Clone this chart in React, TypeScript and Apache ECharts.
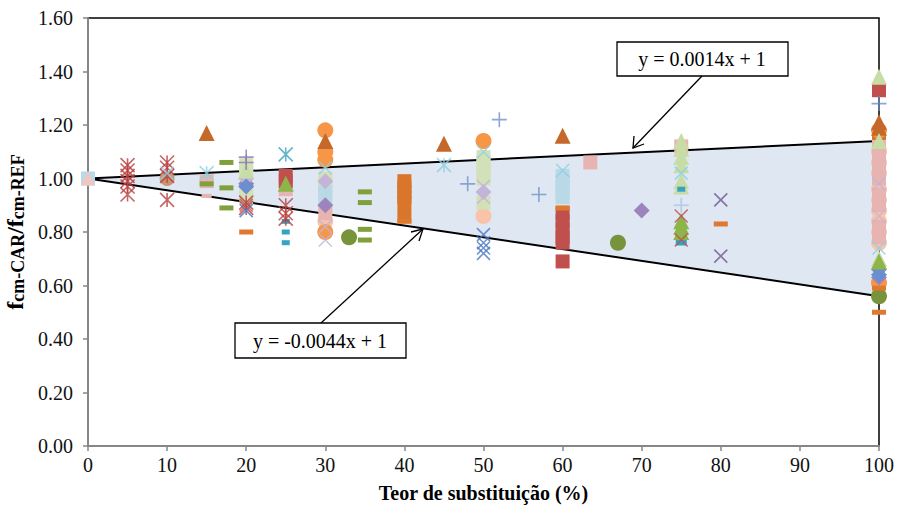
import React, { useEffect, useRef } from "react";
import * as echarts from "echarts";

// ---- axis ticks ----
const xTicks = [0, 10, 20, 30, 40, 50, 60, 70, 80, 90, 100];
const yTicks = [0, 0.2, 0.4, 0.6, 0.8, 1.0, 1.2, 1.4, 1.6];

// ---- envelope lines ----
const upperLine = [[0, 1], [100, 1.14]];
const lowerLine = [[0, 1], [100, 0.56]];
const upperLabel = "y = 0.0014x + 1";
const lowerLabel = "y = -0.0044x + 1";

// ---- data series (x = replacement %, y = fcm-CAR / fcm-REF) ----
const redStars = [[5, 1.05], [5, 1.03], [5, 1.01], [5, 0.99], [5, 0.97], [5, 0.94], [10, 1.06], [10, 1.04], [10, 1.01], [10, 0.92], [20, 0.91], [20, 0.89], [25, 0.9], [25, 0.87], [25, 0.85]];
const aquaStars = [[25, 1.09]];
const lightAquaStars = [[15, 1.02], [45, 1.05]];
const bluePlus = [[48, 0.98], [52, 1.22], [57, 0.94], [100, 1.28]];
const purplePlus = [[20, 1.08], [20, 1.06]];
const lightBluePlus = [[75, 0.9]];
const purpleX = [[80, 0.92], [80, 0.71]];
const blueX = [[20, 0.88], [50, 0.79], [50, 0.76], [50, 0.74], [50, 0.72]];
const lightAquaX = [[10, 1.02], [30, 1.04], [50, 1.1], [60, 1.03], [75, 1.02], [100, 0.74]];
const redX = [[75, 0.86], [75, 0.77], [20, 0.9]];
const lightPurpleX = [[30, 0.77], [30, 0.82], [50, 0.97], [50, 0.93], [100, 0.98], [100, 0.86]];
const brownTriangles = [[15, 1.17], [30, 1.14], [45, 1.13], [60, 1.16], [100, 1.21], [100, 1.19]];
const lightGreenTriangles = [[75, 1.14], [75, 1.11], [75, 1.08], [75, 1.05], [75, 0.99], [75, 0.97], [100, 1.38], [100, 1.14], [100, 0.7], [20, 1.03]];
const greenTriangles = [[25, 0.98], [75, 0.84], [75, 0.82], [75, 0.8], [100, 0.69]];
const pinkTriangles = [[0, 1.0]];
const orangeCircles = [[30, 1.18], [30, 1.1], [30, 1.07], [30, 0.8], [50, 1.14], [100, 1.18], [100, 0.61]];
const peachCircles = [[50, 0.86], [30, 0.84], [100, 1.1], [100, 1.06], [100, 1.02], [100, 0.96], [100, 0.92], [100, 0.88], [100, 0.84], [100, 0.8], [100, 0.76]];
const greenCircles = [[33, 0.78], [67, 0.76], [100, 0.56]];
const tanCircles = [[10, 1.0]];
const redSquares = [[25, 1.01], [25, 0.99], [60, 0.87], [60, 0.84], [60, 0.81], [60, 0.78], [60, 0.76], [60, 0.69], [100, 1.33]];
const pinkSquares = [[15, 0.99], [25, 0.96], [63.5, 1.06], [75, 1.12], [30, 0.87], [100, 1.12], [100, 1.08], [100, 1.04], [100, 1.0], [100, 0.94], [100, 0.9], [100, 0.82], [100, 0.78]];
const lightBlueSquares = [[0, 1.0], [30, 0.97], [30, 0.95], [30, 0.93], [60, 1.01], [60, 0.99], [60, 0.97], [60, 0.95], [60, 0.93], [100, 0.95]];
const lightGreenSquares = [[20, 1.05], [20, 1.03], [20, 0.95], [20, 0.93], [50, 1.08], [50, 1.06], [50, 1.04], [50, 1.02], [50, 1.0], [50, 0.91], [30, 1.0]];
const orangeSquares = [[40, 0.99], [40, 0.97], [40, 0.95], [40, 0.93], [40, 0.91], [40, 0.86], [100, 1.17]];
const aquaSquares = [[75, 0.77]];
const purpleDiamonds = [[70, 0.88], [30, 0.9], [20, 0.98], [100, 0.63]];
const lightPurpleDiamonds = [[20, 1.0], [50, 0.95], [30, 0.99]];
const blueDiamonds = [[100, 0.66], [100, 0.64], [20, 0.97]];
const greenDashes = [[15, 0.98], [17.5, 1.06], [17.5, 0.965], [17.5, 0.89], [35, 0.95], [35, 0.91], [35, 0.81], [35, 0.77]];
const orangeDashes = [[20, 0.8], [40, 0.84], [60, 0.89], [80, 0.83], [100, 0.5], [100, 0.59]];
const aquaDashes = [[25, 0.84], [25, 0.8], [25, 0.76], [75, 0.96]];
const pinkDashes = [[15, 0.935]];

const STAR = "path://M0,0L10,10M10,0L0,10M5,0L5,10";
const XMARK = "path://M0,0L10,10M10,0L0,10";
const PLUS = "path://M5,0L5,10M0,5L10,5";

const FONT = "'Liberation Serif', 'Times New Roman', serif";

function filled(name: string, data: number[][], symbol: string, color: string, size: any) {
  return {
    name, type: "scatter", data, symbol, symbolSize: size, clip: false, z: 3,
    itemStyle: { color, opacity: 1 },
  };
}
function stroked(name: string, data: number[][], symbol: string, color: string, size: number) {
  return {
    name, type: "scatter", data, symbol, symbolSize: size, clip: false, z: 3,
    itemStyle: { color: "rgba(0,0,0,0)", borderColor: color, borderWidth: 1.6 },
  };
}

export default function App() {
  const ref = useRef<HTMLDivElement>(null);
  useEffect(() => {
    if (!ref.current) return;
    const chart = echarts.init(ref.current, null, { renderer: "svg" });
    const series: any[] = [
      {
        name: "envelope", type: "custom", z: 1, silent: true,
        data: [0],
        renderItem: (params: any, api: any) => {
          const pts = [upperLine[0], upperLine[1], lowerLine[1]].map((p) => api.coord(p));
          return { type: "polygon", shape: { points: pts }, style: { fill: "#dfe7f2" } };
        },
      },
      { name: "upper", type: "line", data: upperLine, symbol: "none", z: 2, lineStyle: { color: "#000", width: 2 } },
      { name: "lower", type: "line", data: lowerLine, symbol: "none", z: 2, lineStyle: { color: "#000", width: 2 } },
      filled("lightBlueSquares", lightBlueSquares, "rect", "#B9D9E6", 14),
      filled("pinkTriangles", pinkTriangles, "triangle", "#F2C6C0", 14),
      filled("peachCircles", peachCircles, "circle", "#F9C3A9", 16),
      filled("pinkSquares", pinkSquares, "rect", "#E8B4B2", 14),
      filled("lightGreenSquares", lightGreenSquares, "rect", "#D3E1B8", 14),
      filled("orangeSquares", orangeSquares, "rect", "#D9762C", 14),
      filled("redSquares", redSquares, "rect", "#C0504D", 14),
      filled("aquaSquares", aquaSquares, "rect", "#31A3C4", 11),
      filled("tanCircles", tanCircles, "circle", "#C9956F", 15),
      filled("orangeCircles", orangeCircles, "circle", "#F79646", 16),
      filled("greenCircles", greenCircles, "circle", "#77933C", 16),
      filled("purpleDiamonds", purpleDiamonds, "diamond", "#9C85BD", 16),
      filled("lightPurpleDiamonds", lightPurpleDiamonds, "diamond", "#C4B5D8", 16),
      filled("blueDiamonds", blueDiamonds, "diamond", "#6A8ED0", 16),
      filled("brownTriangles", brownTriangles, "triangle", "#C4692A", 16),
      filled("lightGreenTriangles", lightGreenTriangles, "triangle", "#C8DCA5", 16),
      filled("greenTriangles", greenTriangles, "triangle", "#8DB54A", 16),
      filled("greenDashes", greenDashes, "rect", "#7FA03A", [14, 5]),
      filled("orangeDashes", orangeDashes, "rect", "#E0782D", [14, 5]),
      filled("aquaDashes", aquaDashes, "rect", "#35A4C4", [8, 5]),
      filled("pinkDashes", pinkDashes, "rect", "#E6B4B3", [10, 4]),
      stroked("redStars", redStars, STAR, "#B8403E", 14),
      stroked("aquaStars", aquaStars, STAR, "#3AA3C0", 14),
      stroked("lightAquaStars", lightAquaStars, STAR, "#8FCFE0", 14),
      stroked("bluePlus", bluePlus, PLUS, "#6F92C8", 15),
      stroked("purplePlus", purplePlus, PLUS, "#8C79B4", 15),
      stroked("lightBluePlus", lightBluePlus, PLUS, "#A9C3E4", 15),
      stroked("purpleX", purpleX, XMARK, "#6B5690", 13),
      stroked("blueX", blueX, XMARK, "#4A78C0", 13),
      stroked("lightAquaX", lightAquaX, XMARK, "#8ECFE2", 13),
      stroked("redX", redX, XMARK, "#C0504D", 13),
      stroked("lightPurpleX", lightPurpleX, XMARK, "#C0B4D6", 13),
    ];

    const boxStyle = { fill: "#fff", stroke: "#000", lineWidth: 1.3 };
    const arrowStyle = { stroke: "#000", lineWidth: 1.3, fill: "none" };
    const textStyle = (t: string, x: number, y: number) => ({
      type: "text", x, y, z: 10,
      style: { text: t, fontFamily: FONT, fontSize: 20, fill: "#000", align: "center", verticalAlign: "middle" },
    });

    chart.setOption({
      animation: false,
      backgroundColor: "#fff",
      grid: {
        left: 88, right: 19, top: 18, bottom: 59, outerBoundsMode: "none", containLabel: false,
        show: true, borderColor: "#000", borderWidth: 1.5, backgroundColor: "transparent",
      },
      xAxis: {
        type: "value", min: xTicks[0], max: xTicks[xTicks.length - 1], interval: 10,
        name: "Teor de substituição (%)", nameLocation: "middle", nameGap: 37,
        nameTextStyle: { fontFamily: FONT, fontSize: 20, fontWeight: "bold", color: "#000" },
        axisLine: { lineStyle: { color: "#868686", width: 2 } },
        axisTick: { length: 5, lineStyle: { color: "#868686", width: 1.5 } },
        axisLabel: { fontFamily: FONT, fontSize: 20, color: "#111", margin: 9 },
        splitLine: { show: false },
      },
      yAxis: {
        type: "value", min: yTicks[0], max: yTicks[yTicks.length - 1], interval: 0.2,
        name: "{f|f}{s|cm-CAR}{f|/f}{s|cm-REF}", nameLocation: "middle", nameGap: 60,
        nameTextStyle: {
          fontFamily: FONT, fontWeight: "bold", color: "#000",
          rich: {
            f: { fontFamily: FONT, fontSize: 24, fontWeight: "bold", color: "#000", lineHeight: 24, verticalAlign: "middle" },
            s: { fontFamily: FONT, fontSize: 18, fontWeight: "bold", color: "#000", lineHeight: 18, verticalAlign: "bottom", padding: [12, 0, 0, 0] },
          },
        },
        axisLine: { show: true, lineStyle: { color: "#868686", width: 2 } },
        axisTick: { show: true, length: 5, lineStyle: { color: "#868686", width: 1.5 } },
        axisLabel: { fontFamily: FONT, fontSize: 20, color: "#111", margin: 15, formatter: (v: number) => v.toFixed(2) },
        splitLine: { show: false },
      },
      graphic: [
        { type: "rect", z: 9, shape: { x: 617, y: 42, width: 171, height: 34 }, style: boxStyle },
        textStyle(upperLabel, 702, 59),
        { type: "line", z: 9, shape: { x1: 702, y1: 76, x2: 633, y2: 148 }, style: arrowStyle },
        { type: "polyline", z: 9, shape: { points: [[634, 136], [633, 148], [644, 144]] }, style: arrowStyle },
        { type: "rect", z: 9, shape: { x: 235, y: 323, width: 171, height: 35 }, style: boxStyle },
        textStyle(lowerLabel, 320, 341),
        { type: "line", z: 9, shape: { x1: 321, y1: 323, x2: 423, y2: 229 }, style: arrowStyle },
        { type: "polyline", z: 9, shape: { points: [[411, 232], [423, 229], [419, 241]] }, style: arrowStyle },
      ],
      series,
    });
    return () => chart.dispose();
  }, []);
  return <div ref={ref} style={{ position: "absolute", left: 0, top: 0, width: 898, height: 505 }} />;
}
